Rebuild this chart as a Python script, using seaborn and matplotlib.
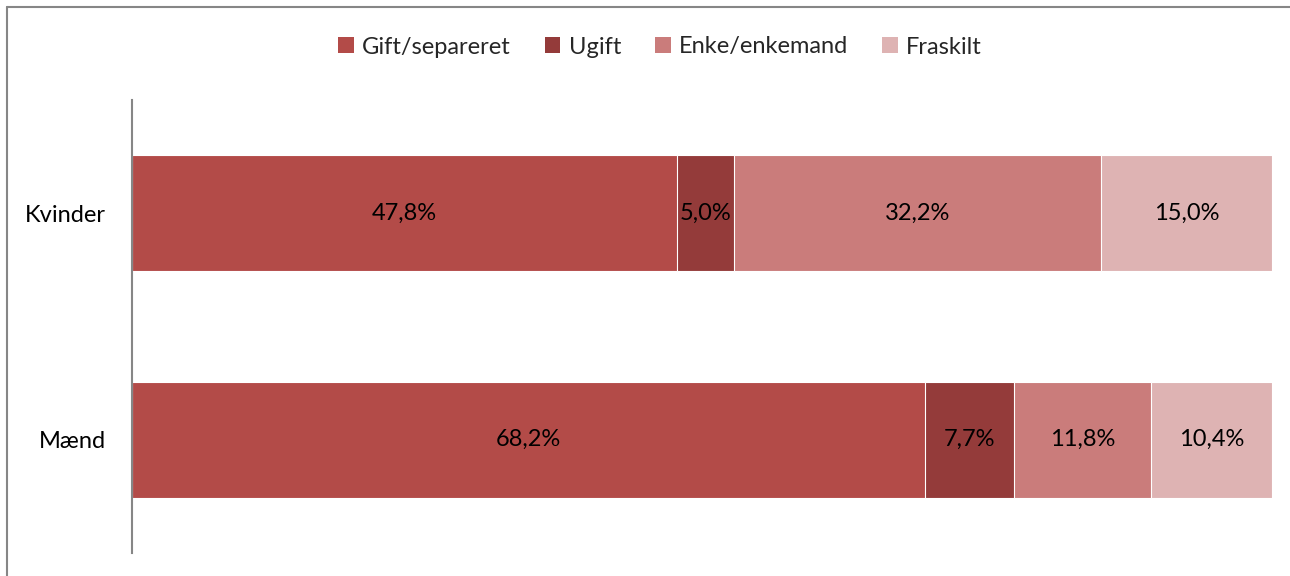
import numpy as np
import pandas as pd
import matplotlib
matplotlib.use("Agg")
import matplotlib.pyplot as plt
from matplotlib.lines import Line2D
from matplotlib.patches import Patch
import seaborn as sns

categories = ["Kvinder", "Mænd"]
series_names = ["Gift/separeret", "Ugift", "Enke/enkemand", "Fraskilt"]
gift = [47.8, 68.2]
ugift = [5.0, 7.7]
enke = [32.2, 11.8]
fraskilt = [15.0, 10.4]
colors = ["#B34B48", "#943B3A", "#CA7C7B", "#DEB3B3"]

sns.set_theme(style="white")
plt.rcParams["font.family"] = ["Lato", "DejaVu Sans"]

FS = 17

vals = np.array([gift, ugift, enke, fraskilt])  # series x categories
totals = vals.sum(axis=0)
shares = vals / totals
cum = np.cumsum(shares, axis=0)

fig = plt.figure(figsize=(12.9, 5.76), dpi=100)
ax = fig.add_axes([132/1290, 1-553/576, (1272-132)/1290, (553-100)/576])

# draw stacked bars back to front (cumulative widths)
for i in range(len(series_names) - 1, -1, -1):
    df = pd.DataFrame({"cat": categories, "val": cum[i]})
    sns.barplot(data=df, x="val", y="cat", orient="h", color=colors[i],
                width=0.513, edgecolor="white", linewidth=0.8, ax=ax,
                saturation=1)

# labels
for j, c in enumerate(categories):
    start = 0
    for i in range(len(series_names)):
        w = shares[i, j]
        ax.text(start + w / 2, j, f"{vals[i, j]:.1f}%".replace(".", ","),
                ha="center", va="center", fontsize=FS, color="black")
        start += w

ax.set_xlim(0, 1)
ax.set_ylim(1.5, -0.5)
ax.set_xlabel("")
ax.set_ylabel("")
ax.set_xticks([])
for s in ["top", "right", "bottom"]:
    ax.spines[s].set_visible(False)
ax.spines["left"].set_color("#868686")
ax.spines["left"].set_linewidth(1.5)
ax.tick_params(axis="y", length=0, pad=19, labelsize=FS, labelcolor="black")

handles = [Patch(facecolor=colors[i], edgecolor="none") for i in range(len(series_names))]
fig.legend(handles, series_names, loc="center", bbox_to_anchor=(660/1290, 1-47/576),
           ncol=4, frameon=False, fontsize=FS, handlelength=0.65, handleheight=0.65,
           handletextpad=0.35, columnspacing=1.45)

# outer frame (top and left edges)
fig.add_artist(Line2D([7/1290, 1], [1-7/576, 1-7/576], color="#868686", lw=1.5,
                      transform=fig.transFigure))
fig.add_artist(Line2D([7/1290, 7/1290], [0, 1-7/576], color="#868686", lw=1.5,
                      transform=fig.transFigure))

fig.savefig("out.png", dpi=100)
